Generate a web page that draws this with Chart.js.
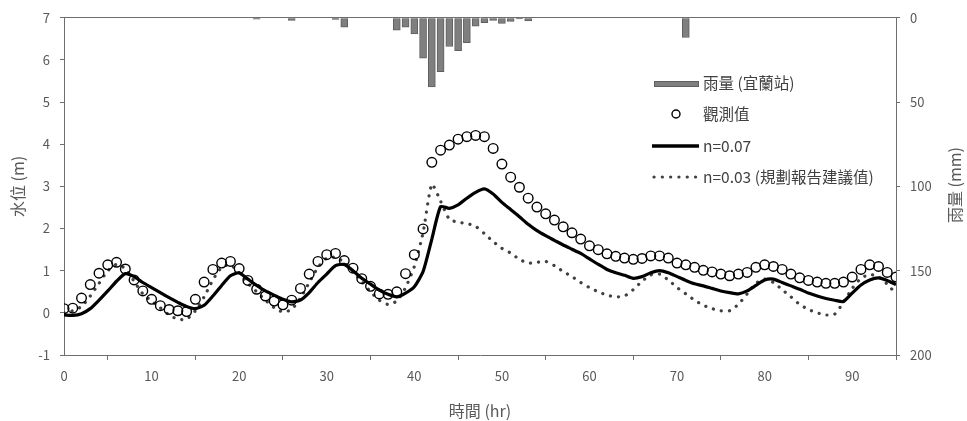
<!DOCTYPE html>
<html>
<head>
<meta charset="utf-8">
<script src="https://cdn.jsdelivr.net/npm/chart.js@4.4.1/dist/chart.umd.min.js"></script>
<style>
  html, body { margin: 0; padding: 0; background: #fff; }
  #wrap { position: relative; width: 967px; height: 421px; }
</style>
</head>
<body>
<div id="wrap"><canvas id="myChart" width="967" height="421"></canvas></div>
<script>
// 時間 (hr)
const hours = [
  0, 1, 2, 3, 4, 5, 6, 7, 8, 9, 10, 11, 12, 13, 14, 15, 16, 17, 18, 19,
  20, 21, 22, 23, 24, 25, 26, 27, 28, 29, 30, 31, 32, 33, 34, 35, 36, 37, 38, 39,
  40, 41, 42, 43, 44, 45, 46, 47, 48, 49, 50, 51, 52, 53, 54, 55, 56, 57, 58, 59,
  60, 61, 62, 63, 64, 65, 66, 67, 68, 69, 70, 71, 72, 73, 74, 75, 76, 77, 78, 79,
  80, 81, 82, 83, 84, 85, 86, 87, 88, 89, 90, 91, 92, 93, 94, 95
];

// 雨量 (宜蘭站) mm
const rain = [
  0, 0, 0, 0, 0, 0, 0, 0, 0, 0, 0, 0, 0, 0, 0, 0, 0, 0, 0, 0,
  0, 0, 0.8, 0, 0, 0, 1.5, 0, 0, 0, 0, 1, 5.6, 0, 0, 0, 0, 0, 7.4, 5.6,
  9.6, 24, 41, 32, 17, 19.5, 14.8, 4.9, 2.9, 1.5, 3.3, 2.1, 0.6, 1.9, 0, 0, 0, 0, 0, 0,
  0, 0, 0, 0, 0, 0, 0, 0, 0, 0, 0, 11.7, 0, 0, 0, 0, 0, 0, 0, 0,
  0, 0, 0, 0, 0, 0, 0, 0, 0, 0, 0, 0, 0, 0, 0, 0
];

// 觀測值 (m)
const observed = [
  0.10, 0.11, 0.35, 0.67, 0.94, 1.14, 1.20, 1.04, 0.78, 0.52,
  0.32, 0.17, 0.08, 0.05, 0.03, 0.32, 0.73, 1.03, 1.18, 1.22,
  1.05, 0.77, 0.56, 0.40, 0.28, 0.19, 0.30, 0.58, 0.92, 1.22,
  1.38, 1.41, 1.24, 1.06, 0.81, 0.63, 0.45, 0.44, 0.50, 0.93,
  1.38, 1.99, 3.57, 3.86, 3.98, 4.12, 4.18, 4.21, 4.18, 3.90,
  3.53, 3.22, 2.98, 2.72, 2.51, 2.35, 2.20, 2.04, 1.90, 1.75,
  1.59, 1.50, 1.40, 1.34, 1.30, 1.27, 1.29, 1.35, 1.35, 1.30,
  1.18, 1.14, 1.08, 1.01, 0.97, 0.92, 0.88, 0.92, 0.96, 1.08,
  1.14, 1.10, 1.03, 0.92, 0.83, 0.77, 0.73, 0.70, 0.70, 0.73,
  0.85, 1.03, 1.14, 1.10, 0.96, 0.85
];

// n=0.07
const simN007 = [
  -0.05, -0.06, -0.02, 0.10, 0.30, 0.52, 0.75, 0.93, 0.86, 0.72,
  0.60, 0.48, 0.36, 0.25, 0.15, 0.10, 0.18, 0.40, 0.65, 0.88,
  0.95, 0.80, 0.65, 0.52, 0.42, 0.32, 0.26, 0.30, 0.48, 0.72,
  0.92, 1.12, 1.15, 1.00, 0.82, 0.68, 0.54, 0.44, 0.38, 0.47,
  0.62, 0.98, 1.75, 2.52, 2.48, 2.56, 2.72, 2.86, 2.94, 2.82,
  2.62, 2.45, 2.28, 2.10, 1.95, 1.83, 1.72, 1.61, 1.51, 1.41,
  1.28, 1.15, 1.03, 0.95, 0.89, 0.82, 0.86, 0.95, 1.00, 0.95,
  0.86, 0.77, 0.69, 0.64, 0.58, 0.52, 0.48, 0.45, 0.52, 0.65,
  0.78, 0.80, 0.72, 0.64, 0.56, 0.47, 0.40, 0.34, 0.30, 0.27,
  0.47, 0.66, 0.78, 0.83, 0.77, 0.67
];

// n=0.03 (規劃報告建議值)
const simN003 = [
  0.00, 0.05, 0.15, 0.40, 0.70, 1.00, 1.15, 1.05, 0.75, 0.45,
  0.28, 0.12, -0.05, -0.15, -0.15, 0.05, 0.38, 0.78, 1.08, 1.14,
  0.95, 0.70, 0.50, 0.30, 0.12, 0.02, 0.08, 0.35, 0.72, 1.08,
  1.30, 1.32, 1.20, 0.98, 0.75, 0.50, 0.30, 0.20, 0.28, 0.60,
  1.10, 1.90, 3.05, 2.65, 2.22, 2.15, 2.12, 2.05, 1.88, 1.69,
  1.53, 1.42, 1.27, 1.18, 1.20, 1.22, 1.12, 0.98, 0.86, 0.72,
  0.60, 0.50, 0.42, 0.38, 0.40, 0.55, 0.75, 0.90, 0.92, 0.78,
  0.60, 0.45, 0.30, 0.18, 0.10, 0.05, 0.05, 0.20, 0.45, 0.70,
  0.80, 0.72, 0.55, 0.38, 0.20, 0.08, 0.00, -0.05, -0.03, 0.25,
  0.58, 0.82, 0.91, 0.86, 0.68, 0.45
];

const legendLabels = ['雨量 (宜蘭站)', '觀測值', 'n=0.07', 'n=0.03 (規劃報告建議值)'];

const FONT = "'Noto Sans CJK TC', 'Noto Sans', sans-serif";
const TEXT = '#595959';
const AXIS = '#6e6e6e';

// leyenda dentro del área y título del eje derecho
const extrasPlugin = {
  id: 'extras',
  afterDraw(chart) {
    const ctx = chart.ctx;
    ctx.save();
    ctx.font = '15.5px ' + FONT;
    ctx.textBaseline = 'middle';
    ctx.textAlign = 'left';

    // rain
    ctx.fillStyle = '#7f7f7f';
    ctx.fillRect(654, 81, 45, 6);
    ctx.strokeStyle = '#5f5f5f';
    ctx.lineWidth = 1;
    ctx.strokeRect(654.5, 81.5, 44, 5);
    ctx.fillStyle = '#404040';
    ctx.fillText(legendLabels[0], 703, 83);

    // observed
    ctx.beginPath();
    ctx.arc(676, 114, 4, 0, Math.PI * 2);
    ctx.strokeStyle = '#000';
    ctx.lineWidth = 1.4;
    ctx.stroke();
    ctx.fillText(legendLabels[1], 703, 114);

    // n=0.07
    ctx.beginPath();
    ctx.moveTo(652, 146);
    ctx.lineTo(699, 146);
    ctx.lineWidth = 3.5;
    ctx.stroke();
    ctx.fillText(legendLabels[2], 703, 146);

    // n=0.03
    ctx.beginPath();
    ctx.setLineDash([0.1, 8.2]);
    ctx.lineCap = 'round';
    ctx.moveTo(654, 177);
    ctx.lineTo(697, 177);
    ctx.strokeStyle = '#404040';
    ctx.lineWidth = 3.2;
    ctx.stroke();
    ctx.setLineDash([]);
    ctx.fillText(legendLabels[3], 703, 177);

    // right title
    ctx.font = '16px ' + FONT;
    ctx.translate(955, 185);
    ctx.rotate(-Math.PI / 2);
    ctx.textAlign = 'center';
    ctx.fillStyle = TEXT;
    ctx.fillText('雨量 (mm)', 0, 0);
    ctx.restore();
  }
};

const ctx = document.getElementById('myChart').getContext('2d');

new Chart(ctx, {
  type: 'line',
  data: {
    labels: hours,
    datasets: [
      {
        type: 'bar',
        label: legendLabels[0],
        data: rain.map(v => (v > 0 ? v : null)),
        yAxisID: 'y2',
        backgroundColor: '#7f7f7f',
        borderColor: '#5f5f5f',
        borderWidth: 1,
        barThickness: 7,
        order: 4
      },
      {
        label: legendLabels[1],
        data: observed,
        yAxisID: 'y',
        showLine: false,
        pointStyle: 'circle',
        pointRadius: 4.8,
        pointBorderWidth: 1.4,
        pointBorderColor: '#000',
        pointBackgroundColor: 'rgba(255,255,255,0)',
        order: 1
      },
      {
        label: legendLabels[2],
        data: simN007,
        yAxisID: 'y',
        borderColor: '#000',
        borderWidth: 3.2,
        pointRadius: 0,
        tension: 0.2,
        order: 2
      },
      {
        label: legendLabels[3],
        data: simN003,
        yAxisID: 'y',
        borderColor: '#404040',
        borderWidth: 3.2,
        borderDash: [0.1, 8],
        borderCapStyle: 'round',
        pointRadius: 0,
        tension: 0.2,
        order: 3
      }
    ]
  },
  options: {
    responsive: false,
    animation: false,
    layout: { padding: 0 },
    plugins: {
      legend: { display: false },
      tooltip: { enabled: false }
    },
    scales: {
      x: {
        type: 'linear',
        position: 'bottom',
        min: 0,
        max: 95,
        offset: false,
        afterFit: s => { s.height = 66; },
        afterBuildTicks: s => { s.ticks = s.ticks.filter(t => t.value % 10 === 0); },
        ticks: {
          stepSize: 10,
          color: TEXT,
          font: { family: FONT, size: 13 },
          padding: 8,
          maxRotation: 0
        },
        grid: { drawOnChartArea: false, drawTicks: true, tickLength: 5, color: AXIS },
        border: { display: true, color: AXIS, width: 1 },
        title: {
          display: true,
          text: '時間 (hr)',
          color: TEXT,
          font: { family: FONT, size: 16 },
          padding: { top: 4, bottom: 0 }
        }
      },
      xTop: {
        type: 'linear',
        position: 'top',
        min: 0,
        max: 95,
        afterFit: s => { s.height = 14; },
        ticks: { display: false },
        grid: { display: false },
        border: { display: true, color: AXIS, width: 1 }
      },
      y: {
        type: 'linear',
        position: 'left',
        min: -1,
        max: 7,
        afterFit: s => { s.width = 64; },
        ticks: {
          stepSize: 1,
          color: TEXT,
          font: { family: FONT, size: 13 },
          padding: 10
        },
        grid: { drawOnChartArea: false, drawTicks: true, tickLength: 4, color: AXIS },
        border: { display: true, color: AXIS, width: 1 },
        title: {
          display: true,
          text: '水位 (m)',
          color: TEXT,
          font: { family: FONT, size: 16 },
          padding: { top: 8, bottom: 0 }
        }
      },
      y2: {
        type: 'linear',
        position: 'right',
        reverse: true,
        min: 0,
        max: 200,
        afterFit: s => { s.width = 71; },
        ticks: {
          stepSize: 50,
          color: TEXT,
          font: { family: FONT, size: 13 },
          padding: 10
        },
        grid: { drawOnChartArea: false, drawTicks: true, tickLength: 4, color: AXIS },
        border: { display: true, color: AXIS, width: 1 }
      }
    }
  },
  plugins: [extrasPlugin]
});
</script>
</body>
</html>
